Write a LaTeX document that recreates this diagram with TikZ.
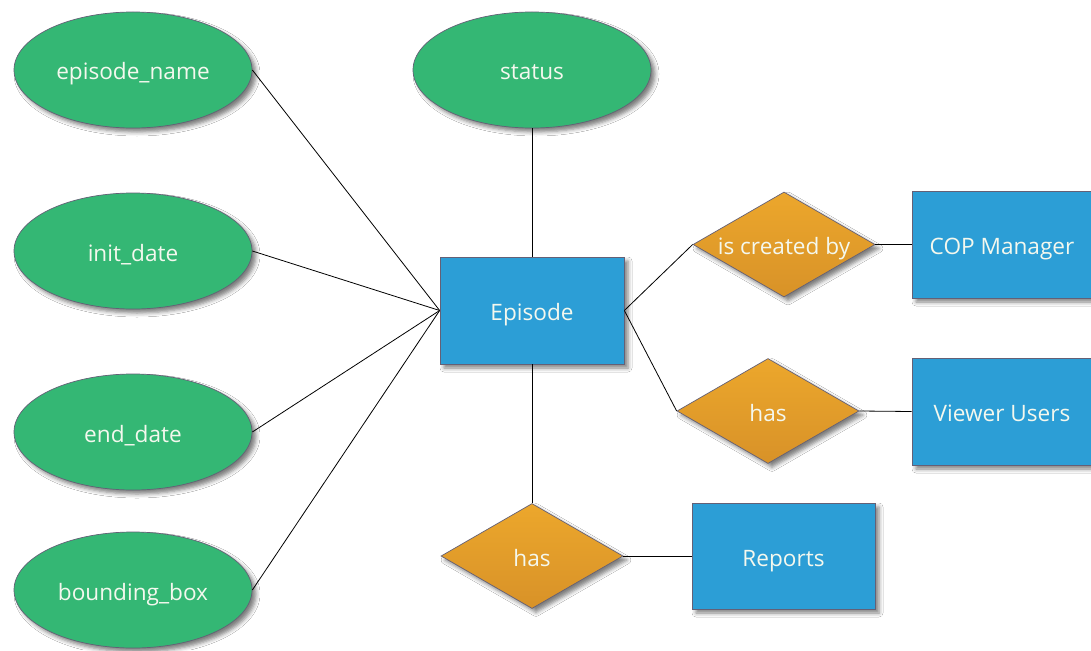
\documentclass[tikz,border=0pt]{standalone}
\usepackage{fontspec}
\setmainfont{Open Sans}
\usetikzlibrary{shapes.geometric,shadows.blur}

\definecolor{attrgreen}{RGB}{52,183,116}
\definecolor{entblue}{RGB}{44,158,214}
\definecolor{relorangetop}{RGB}{236,167,44}
\definecolor{relorangebot}{RGB}{216,146,40}
\definecolor{edgegrey}{RGB}{100,96,118}
\definecolor{labelwhite}{RGB}{244,248,238}

\begin{document}
\begin{tikzpicture}[x=1pt,y=-1pt,
  base/.style={draw=edgegrey, line width=0.7pt,
    font=\fontsize{22.6}{26}\selectfont, text=labelwhite, inner sep=0pt,
    text height=20pt, text depth=0pt,
    blur shadow={shadow xshift=4pt, shadow yshift=-4pt,
      shadow blur radius=4pt, shadow opacity=50}},
  attr/.style={base, ellipse, fill=attrgreen,
    minimum width=238pt, minimum height=116pt},
  entity/.style={base, rectangle, fill=entblue,
    minimum height=107pt},
  rel/.style={base, diamond, top color=relorangetop, bottom color=relorangebot,
    minimum width=182pt, minimum height=105pt},
  link/.style={draw=black, line width=0.8pt}]

  \useasboundingbox (0,0) rectangle (1091,650);
  \fill[white] (0,0) rectangle (1091,650);

  % attributes
  \node[attr] (ename)  at (133,70)  {episode\_name};
  \node[attr] (status) at (532,70)  {status};
  \node[attr] (init)   at (133,251) {init\_date};
  \node[attr] (endd)   at (133,432) {end\_date};
  \node[attr] (bbox)   at (133,590) {bounding\_box};

  % entities
  \node[entity, minimum width=184pt] (ep)   at (532,310.5)  {Episode};
  \node[entity, minimum width=180pt] (cop)  at (1002,244.5) {COP Manager};
  \node[entity, minimum width=180pt] (view) at (1002,411.5) {Viewer Users};
  \node[entity, minimum width=183pt, minimum height=106pt] (rep) at (783.5,556) {Reports};

  % relationships
  \node[rel] (created) at (784,244.5) {\makebox[0pt]{is created by}};
  \node[rel] (hasview) at (768,411)   {\makebox[0pt]{has}};
  \node[rel] (hasrep)  at (532,556)   {\makebox[0pt]{has}};

  % connectors
  \draw[link] (ename.east) -- (ep.west);
  \draw[link] (init.east)  -- (ep.west);
  \draw[link] (endd.east)  -- (ep.west);
  \draw[link] (bbox.east)  -- (ep.west);
  \draw[link] (status.south) -- (ep.north);
  \draw[link] (ep.east) -- (created.west);
  \draw[link] (ep.east) -- (hasview.west);
  \draw[link] (ep.south) -- (hasrep.north);
  \draw[link] (created.east) -- (cop.west);
  \draw[link] (hasview.east) -- (view.west);
  \draw[link] (hasrep.east) -- (rep.west);
\end{tikzpicture}
\end{document}
